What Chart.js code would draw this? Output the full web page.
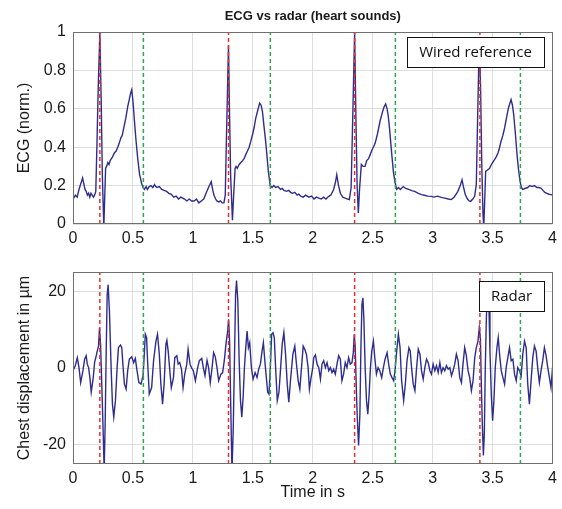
<!DOCTYPE html>
<html>
<head>
<meta charset="utf-8">
<title>ECG vs radar</title>
<script src="https://cdn.jsdelivr.net/npm/chart.js@4.4.1/dist/chart.umd.min.js"></script>
<style>
  body { margin: 0; background: #fff; }
  #wrap { position: relative; width: 562px; height: 509px; }
  .panel { position: absolute; left: 0; width: 562px; }
</style>
</head>
<body>
<div id="wrap">
  <div class="panel" style="top:0;height:250px"><canvas id="ecgChart"></canvas></div>
  <div class="panel" style="top:250px;height:259px"><canvas id="radarChart"></canvas></div>
</div>
<script>
// ---- data ----
const timeTicks = [0, 0.5, 1, 1.5, 2, 2.5, 3, 3.5, 4];
const timeLabels = ['0', '0.5', '1', '1.5', '2', '2.5', '3', '3.5', '4'];
const ecgTicks = [0, 0.2, 0.4, 0.6, 0.8, 1];
const ecgLabels = ['0', '0.2', '0.4', '0.6', '0.8', '1'];
const radarTicks = [-20, 0, 20];
const radarLabels = ['-20', '0', '20'];

// R peaks (red) and end of T wave (green), seconds
const rPeakTimes = [0.224, 1.297, 2.349, 3.394];
const tEndTimes = [0.587, 1.646, 2.689, 3.732];

// wired ECG, normalised
const ecgTime = [
  0, 0.02, 0.035, 0.05, 0.065, 0.08, 0.09, 0.10, 0.11, 0.12,
  0.13, 0.14, 0.15, 0.16, 0.17, 0.18, 0.19, 0.20, 0.21, 0.224,
  0.235, 0.245, 0.257, 0.265, 0.272, 0.28, 0.29, 0.30, 0.31, 0.32,
  0.33, 0.345, 0.36, 0.373, 0.385, 0.40, 0.41, 0.42, 0.43, 0.44,
  0.456, 0.47, 0.48, 0.49, 0.50, 0.512, 0.525, 0.54, 0.555, 0.573,
  0.585, 0.595, 0.61, 0.62, 0.636, 0.65, 0.665, 0.68, 0.69, 0.70,
  0.72, 0.74, 0.76, 0.78, 0.80, 0.82, 0.84, 0.86, 0.88, 0.90,
  0.93, 0.95, 0.97, 0.99, 1.01, 1.03, 1.05, 1.07, 1.09, 1.11,
  1.13, 1.153, 1.165, 1.176, 1.19, 1.20, 1.217, 1.23, 1.245, 1.259,
  1.27, 1.28, 1.297, 1.305, 1.315, 1.33, 1.34, 1.352, 1.36, 1.37,
  1.386, 1.40, 1.415, 1.427, 1.44, 1.455, 1.469, 1.483, 1.497, 1.51,
  1.524, 1.54, 1.557, 1.568, 1.58, 1.593, 1.607, 1.62, 1.63, 1.645,
  1.66, 1.675, 1.69, 1.71, 1.73, 1.745, 1.76, 1.78, 1.80, 1.815,
  1.83, 1.85, 1.87, 1.884, 1.90, 1.92, 1.94, 1.967, 1.99, 2.01,
  2.03, 2.05, 2.07, 2.09, 2.11, 2.133, 2.15, 2.174, 2.19, 2.20,
  2.215, 2.23, 2.25, 2.27, 2.29, 2.305, 2.32, 2.335, 2.349, 2.36,
  2.37, 2.38, 2.39, 2.405, 2.42, 2.436, 2.45, 2.465, 2.478, 2.49,
  2.505, 2.52, 2.54, 2.561, 2.58, 2.595, 2.608, 2.62, 2.63, 2.64,
  2.655, 2.672, 2.685, 2.70, 2.715, 2.73, 2.755, 2.775, 2.80, 2.825,
  2.85, 2.88, 2.907, 2.93, 2.96, 2.99, 3.01, 3.04, 3.073, 3.10,
  3.13, 3.156, 3.18, 3.20, 3.21, 3.23, 3.245, 3.258, 3.272, 3.29,
  3.305, 3.317, 3.335, 3.35, 3.364, 3.375, 3.389, 3.40, 3.41, 3.42,
  3.426, 3.434, 3.442, 3.455, 3.475, 3.49, 3.50, 3.516, 3.53, 3.545,
  3.557, 3.57, 3.585, 3.60, 3.615, 3.632, 3.645, 3.654, 3.665, 3.676,
  3.69, 3.704, 3.715, 3.729, 3.74, 3.751, 3.77, 3.793, 3.81, 3.83,
  3.848, 3.87, 3.885, 3.903, 3.92, 3.935, 3.953, 3.97, 3.986, 4.0
];
const ecgValue = [
  0.13, 0.15, 0.14, 0.18, 0.21, 0.24, 0.21, 0.18, 0.17, 0.15,
  0.16, 0.14, 0.16, 0.15, 0.14, 0.15, 0.17, 0.42, 0.70, 0.995,
  0.65, 0.25, -0.02, 0.15, 0.29, 0.30, 0.32, 0.31, 0.33, 0.34,
  0.35, 0.37, 0.38, 0.40, 0.42, 0.45, 0.46, 0.49, 0.52, 0.55,
  0.61, 0.65, 0.68, 0.70, 0.64, 0.54, 0.44, 0.34, 0.26, 0.21,
  0.19, 0.18, 0.195, 0.18, 0.195, 0.20, 0.19, 0.205, 0.195, 0.19,
  0.195, 0.18, 0.175, 0.17, 0.16, 0.155, 0.14, 0.145, 0.13, 0.14,
  0.13, 0.12, 0.13, 0.12, 0.12, 0.13, 0.11, 0.12, 0.13, 0.16,
  0.19, 0.22, 0.18, 0.15, 0.13, 0.12, 0.115, 0.12, 0.11, 0.11,
  0.15, 0.45, 0.93, 0.60, 0.25, 0.02, 0.15, 0.29, 0.30, 0.29,
  0.31, 0.32, 0.33, 0.34, 0.36, 0.38, 0.40, 0.43, 0.465, 0.50,
  0.55, 0.59, 0.63, 0.62, 0.587, 0.51, 0.43, 0.34, 0.27, 0.20,
  0.19, 0.20, 0.19, 0.195, 0.18, 0.185, 0.175, 0.17, 0.175, 0.165,
  0.16, 0.165, 0.15, 0.155, 0.145, 0.14, 0.15, 0.14, 0.145, 0.13,
  0.14, 0.135, 0.13, 0.14, 0.13, 0.144, 0.15, 0.18, 0.22, 0.257,
  0.20, 0.16, 0.14, 0.135, 0.13, 0.127, 0.19, 0.60, 0.995, 0.55,
  0.20, 0.057, 0.18, 0.31, 0.30, 0.30, 0.33, 0.34, 0.36, 0.38,
  0.40, 0.42, 0.47, 0.535, 0.58, 0.61, 0.625, 0.60, 0.56, 0.50,
  0.39, 0.274, 0.22, 0.18, 0.19, 0.18, 0.195, 0.185, 0.18, 0.174,
  0.17, 0.16, 0.153, 0.15, 0.145, 0.144, 0.14, 0.145, 0.139, 0.135,
  0.13, 0.127, 0.14, 0.16, 0.17, 0.20, 0.23, 0.19, 0.153, 0.13,
  0.12, 0.118, 0.13, 0.144, 0.205, 0.55, 0.97, 0.70, 0.30, 0.05,
  -0.02, 0.12, 0.274, 0.28, 0.29, 0.31, 0.32, 0.335, 0.35, 0.37,
  0.396, 0.43, 0.46, 0.50, 0.55, 0.604, 0.63, 0.648, 0.62, 0.57,
  0.47, 0.36, 0.29, 0.222, 0.19, 0.18, 0.185, 0.19, 0.20, 0.195,
  0.20, 0.19, 0.19, 0.187, 0.175, 0.165, 0.16, 0.155, 0.153, 0.15
];

// radar chest displacement, micrometres
const radarTime = [
  0, 0.019, 0.036, 0.05, 0.064, 0.083, 0.097, 0.11, 0.119, 0.13,
  0.141, 0.152, 0.169, 0.18, 0.194, 0.202, 0.213, 0.221, 0.23, 0.24,
  0.252, 0.26, 0.268, 0.277, 0.285, 0.293, 0.304, 0.318, 0.329, 0.34,
  0.354, 0.368, 0.379, 0.396, 0.407, 0.418, 0.429, 0.443, 0.456, 0.47,
  0.49, 0.506, 0.52, 0.534, 0.55, 0.567, 0.584, 0.595, 0.603, 0.614,
  0.622, 0.636, 0.656, 0.672, 0.692, 0.705, 0.72, 0.733, 0.747, 0.76,
  0.775, 0.783, 0.794, 0.81, 0.82, 0.838, 0.849, 0.866, 0.877, 0.89,
  0.905, 0.918, 0.932, 0.949, 0.96, 0.976, 0.988, 1.004, 1.021, 1.04,
  1.054, 1.074, 1.087, 1.101, 1.118, 1.131, 1.145, 1.16, 1.173, 1.187,
  1.201, 1.215, 1.234, 1.248, 1.262, 1.276, 1.29, 1.298, 1.306, 1.315,
  1.326, 1.337, 1.348, 1.356, 1.364, 1.375, 1.386, 1.397, 1.408, 1.419,
  1.43, 1.441, 1.452, 1.463, 1.474, 1.488, 1.502, 1.519, 1.535, 1.549,
  1.563, 1.577, 1.588, 1.599, 1.61, 1.624, 1.635, 1.646, 1.657, 1.668,
  1.679, 1.69, 1.704, 1.718, 1.732, 1.745, 1.759, 1.773, 1.787, 1.8,
  1.814, 1.834, 1.85, 1.864, 1.878, 1.892, 1.906, 1.92, 1.933, 1.947,
  1.961, 1.972, 1.986, 2.0, 2.008, 2.022, 2.036, 2.05, 2.064, 2.077,
  2.091, 2.105, 2.119, 2.133, 2.147, 2.16, 2.174, 2.188, 2.202, 2.216,
  2.23, 2.243, 2.257, 2.271, 2.285, 2.299, 2.313, 2.327, 2.338, 2.346,
  2.354, 2.363, 2.371, 2.382, 2.393, 2.401, 2.41, 2.418, 2.426, 2.437,
  2.448, 2.459, 2.47, 2.481, 2.492, 2.506, 2.517, 2.531, 2.545, 2.559,
  2.575, 2.589, 2.603, 2.62, 2.633, 2.647, 2.661, 2.675, 2.686, 2.7,
  2.714, 2.728, 2.741, 2.758, 2.772, 2.786, 2.802, 2.813, 2.824, 2.838,
  2.852, 2.866, 2.88, 2.894, 2.907, 2.921, 2.935, 2.949, 2.963, 2.977,
  2.99, 3.004, 3.018, 3.032, 3.046, 3.06, 3.073, 3.087, 3.101, 3.115,
  3.129, 3.143, 3.157, 3.17, 3.184, 3.198, 3.212, 3.226, 3.24, 3.253,
  3.267, 3.281, 3.295, 3.309, 3.323, 3.337, 3.351, 3.364, 3.378, 3.389,
  3.398, 3.406, 3.414, 3.423, 3.431, 3.439, 3.448, 3.456, 3.463, 3.47,
  3.478, 3.489, 3.5, 3.511, 3.522, 3.536, 3.547, 3.558, 3.572, 3.586,
  3.6, 3.613, 3.627, 3.641, 3.655, 3.669, 3.683, 3.697, 3.71, 3.724,
  3.738, 3.752, 3.766, 3.78, 3.793, 3.807, 3.821, 3.835, 3.849, 3.863,
  3.876, 3.89, 3.904, 3.918, 3.932, 3.946, 3.96, 3.974, 3.987, 4.0
];
const radarValue = [
  -0.7, 0.6, 2.7, 0.1, -3.8, -0.7, 2.3, 3.2, 1.0, 0.1,
  -2.5, -6.3, -2.5, 1.4, 3.2, 4.4, 5.7, 10.5, 6.2, -4.2,
  -17, -27, -15, 4.4, 19, 21.7, 14.8, 0.1, -9.4, -12.8,
  -8.5, 0.1, 5.3, 6.0, 5.3, 0.1, -4.2, -5.5, -0.7, 2.3,
  2.9, 1.4, 2.5, -0.7, -3.8, -4.2, -2.0, 3.6, 8.8, 7.9,
  1.9, -6.8, -5.1, 1.9, 7.0, 8.8, 3.6, -4.2, -9.4, -4.2,
  6.2, 7.2, 4.4, -1.6, -5.1, -2.5, 2.7, 3.2, 1.0, 1.4,
  -0.3, -5.1, -1.6, 1.0, 4.9, 1.0, 0.1, -0.7, -3.3, 0.1,
  1.9, 2.5, 0.1, -2.0, 2.0, 0.1, -3.8, 0.1, 4.0, 2.9,
  0.1, -3.3, -1.6, -1.2, 1.9, 6.2, 9.6, 12.7, 7.0, -8.5,
  -27, -15.4, 4.4, 19, 22.8, 17.4, 1.9, -8.5, -12.8, -7.6,
  0.1, 5.3, 9.6, 5.3, 6.6, 0.1, -2.9, -1.2, -2.5, -0.3,
  1.0, 4.4, 6.6, 2.3, -1.6, -6.3, -6.8, 0.1, 8.8, 9.2,
  7.9, 0.1, -8.5, -6.3, 0.1, 6.2, 9.2, 3.6, -4.2, -8.9,
  -3.3, 3.6, 5.7, 1.0, -3.3, -5.5, 0.1, 5.7, 4.9, 3.6,
  0.1, -5.5, -2.5, 0.1, 2.7, 3.4, 1.0, 0.1, -2.9, 1.0,
  1.9, 0.1, 1.4, -0.7, 0.1, -1.2, -0.3, -1.6, 1.0, 3.2,
  2.3, -3.3, -1.6, 1.4, 0.1, 2.7, 1.0, 1.4, 4.0, 8.8,
  5.3, -5.1, -12.8, -20.2, -12.0, 4.4, 16.5, 18.3, 13.1, 0.1,
  -8.5, -12.0, -6.8, 0.1, 4.4, 7.0, 2.7, -1.6, 0.1, -0.7,
  -2.5, 0.1, 2.3, 4.0, 1.0, -1.6, -2.5, -3.3, -0.7, 4.4,
  8.8, 5.3, -3.3, -8.5, -4.2, 1.9, 5.3, 4.4, 0.1, -4.2,
  -5.9, 0.1, 4.9, 3.6, -0.7, -2.9, 0.1, 2.3, 1.4, -0.7,
  -1.6, 1.0, -0.7, 0.6, -1.2, 1.4, -1.2, 0.1, -0.7, 0.6,
  -0.3, 0.1, -2.0, -0.7, 1.0, 3.6, 1.9, -2.5, -3.8, 1.0,
  5.3, 3.2, -0.7, -2.5, -5.9, -3.3, 2.7, 5.3, 7.0, 10.5,
  7.9, -4.2, -14.5, -22.8, -17.1, 0.1, 13.1, 20, 21, 15,
  4.4, -6.8, -13.7, -8.5, 0.1, 5.3, 7.9, 3.6, -0.7, -2.5,
  -4.2, 0.1, 2.7, 5.3, 1.9, 2.3, -1.6, -3.3, 0.1, -0.7,
  -2.0, 3.6, 7.0, 5.3, -4.2, -9.4, -3.3, 2.7, 5.7, 4.4,
  0.1, -3.8, -0.7, 1.9, 5.3, 3.2, 0.1, -2.5, -5.1, 0.1
];

// ---- styling ----
const FONT = "'Liberation Sans', Arial, sans-serif";
const TEXT = '#1a1a1a';
const TRACE = '#2d2d8f';
const RED = '#e8302c';
const GREEN = '#2ea84f';
const GRID = '#dedede';

// box round the plot area plus the little label box in the corner
const frameAndLabel = {
  id: 'frameAndLabel',
  afterDatasetsDraw(chart, args, opts) {
    const ctx = chart.ctx;
    const a = chart.chartArea;
    ctx.save();
    ctx.strokeStyle = '#6f6f6f';
    ctx.lineWidth = 1;
    ctx.strokeRect(Math.round(a.left) + 0.5, Math.round(a.top) + 0.5,
                   Math.round(a.width) - 1, Math.round(a.height) - 1);

    ctx.font = '15px "Open Sans", sans-serif';
    const w = Math.round(ctx.measureText(opts.text).width + 24);
    const h = 30;
    const x = Math.round(a.right - opts.gapRight - w);
    const y = Math.round(a.top + opts.gapTop);
    ctx.fillStyle = '#fff';
    ctx.fillRect(x, y, w, h);
    ctx.strokeStyle = '#111';
    ctx.strokeRect(x + 0.5, y + 0.5, w, h);
    ctx.fillStyle = '#111';
    ctx.textAlign = 'center';
    ctx.textBaseline = 'middle';
    ctx.fillText(opts.text, x + w / 2, y + h / 2 + 1);
    ctx.restore();
  }
};

function markerSets(times, color, yMin, yMax) {
  return times.map(function(t) {
    return {
      data: [{ x: t, y: yMin }, { x: t, y: yMax }],
      borderColor: color,
      borderWidth: 1.5,
      borderDash: [4, 3],
      pointRadius: 0,
      order: 0
    };
  });
}

function traceSet(times, values) {
  return {
    data: times.map(function(t, i) { return { x: t, y: values[i] }; }),
    borderColor: TRACE,
    borderWidth: 1.4,
    pointRadius: 0,
    tension: 0,
    order: 1
  };
}

function xScale(height, showTitle) {
  return {
    type: 'linear', min: 0, max: 4,
    afterBuildTicks: function(s) { s.ticks = timeTicks.map(function(v) { return { value: v }; }); },
    afterFit: function(s) { s.height = height; },
    ticks: {
      callback: function(v, i) { return timeLabels[i]; },
      font: { family: FONT, size: 16 }, color: TEXT, padding: 5,
      maxRotation: 0, autoSkip: false
    },
    grid: { color: GRID, drawTicks: false },
    border: { display: false },
    title: {
      display: showTitle, text: 'Time in s',
      font: { family: FONT, size: 16 }, color: TEXT,
      padding: { top: 0, bottom: 7 }
    }
  };
}

function yScale(min, max, ticks, labels, titleText) {
  return {
    min: min, max: max,
    afterBuildTicks: function(s) { s.ticks = ticks.map(function(v) { return { value: v }; }); },
    afterFit: function(s) { s.width = 73; },
    ticks: {
      callback: function(v, i) { return labels[i]; },
      font: { family: FONT, size: 16 }, color: TEXT, padding: 7
    },
    grid: { color: GRID, drawTicks: false },
    border: { display: false },
    title: {
      display: true, text: titleText,
      font: { family: FONT, size: 16 }, color: TEXT,
      padding: { top: 15, bottom: 0 }
    }
  };
}

document.addEventListener('DOMContentLoaded', function() {
  if (typeof Chart === 'undefined') {
    console.error('Chart.js not loaded!');
    return;
  }

  new Chart(document.getElementById('ecgChart'), {
    type: 'line',
    data: {
      datasets: markerSets(rPeakTimes, RED, 0, 1)
        .concat(markerSets(tEndTimes, GREEN, 0, 1))
        .concat([traceSet(ecgTime, ecgValue)])
    },
    options: {
      responsive: true,
      maintainAspectRatio: false,
      animation: false,
      layout: { padding: { left: 0, right: 7, top: 0, bottom: 0 } },
      plugins: {
        legend: { display: false },
        tooltip: { enabled: false },
        title: {
          display: true, fullSize: false,
          text: 'ECG vs radar (heart sounds)',
          font: { family: FONT, size: 13, weight: 'bold' }, color: TEXT,
          padding: { top: 9, bottom: 7.4 }
        },
        frameAndLabel: { text: 'Wired reference', gapRight: 9, gapTop: 5 }
      },
      scales: {
        x: xScale(26, false),
        y: yScale(0, 1, ecgTicks, ecgLabels, 'ECG (norm.)')
      }
    },
    plugins: [frameAndLabel]
  });

  new Chart(document.getElementById('radarChart'), {
    type: 'line',
    data: {
      datasets: markerSets(rPeakTimes, RED, -25, 25)
        .concat(markerSets(tEndTimes, GREEN, -25, 25))
        .concat([traceSet(radarTime, radarValue)])
    },
    options: {
      responsive: true,
      maintainAspectRatio: false,
      animation: false,
      layout: { padding: { left: 0, right: 7, top: 22, bottom: 0 } },
      plugins: {
        legend: { display: false },
        tooltip: { enabled: false },
        frameAndLabel: { text: 'Radar', gapRight: 9, gapTop: 9 }
      },
      scales: {
        x: xScale(45, true),
        y: yScale(-25, 25, radarTicks, radarLabels, 'Chest displacement in µm')
      }
    },
    plugins: [frameAndLabel]
  });
});
</script>
</body>
</html>
